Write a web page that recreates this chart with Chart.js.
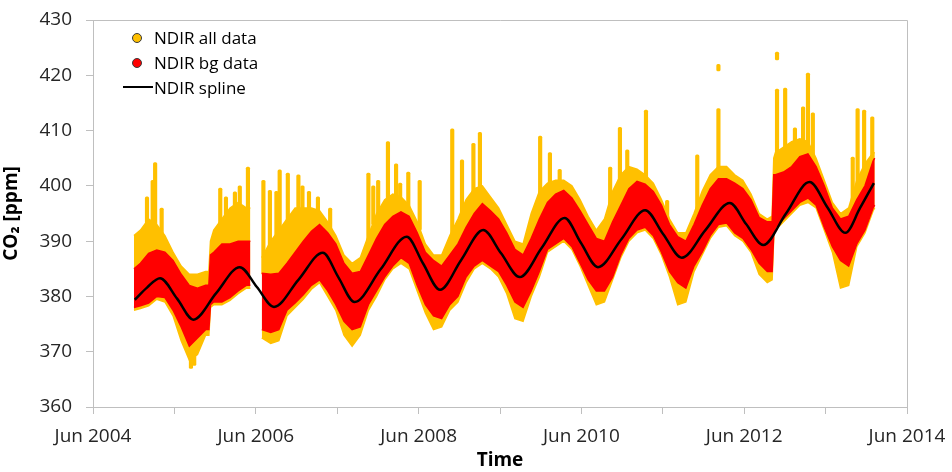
<!DOCTYPE html>
<html lang="en">
<head>
<meta charset="UTF-8">
<title>NDIR CO2</title>
<script src="https://cdn.jsdelivr.net/npm/chart.js"></script>
<style>
  body { margin: 0; background: #fff; }
  #wrap { position: relative; width: 952px; height: 472px; }
  .lg { position: absolute; font: 17px 'Open Sans', sans-serif; color: #000; line-height: 22px; white-space: nowrap; }
  .dot { position: absolute; width: 8px; height: 8px; border-radius: 50%; border: 1px solid #3a3a3a; }
  .ln { position: absolute; height: 2px; background: #000; }
</style>
</head>
<body>
<div id="wrap">
  <canvas id="co2Chart" width="952" height="472"></canvas>
  <div class="dot" style="left:132px;top:33px;background:#ffc000"></div>
  <div class="lg" style="left:154px;top:27px">NDIR all data</div>
  <div class="dot" style="left:132px;top:58px;background:#ff0000"></div>
  <div class="lg" style="left:154px;top:52px">NDIR bg data</div>
  <div class="ln" style="left:123px;top:86px;width:30px"></div>
  <div class="lg" style="left:154px;top:77px">NDIR spline</div>
</div>

<script>
// decimal years, data sampled along the band
const times = [2004.92, 2005.0, 2005.1, 2005.2, 2005.3, 2005.4, 2005.5, 2005.6, 2005.7, 2005.8, 2005.84, 2005.86, 2005.9,
  2006.0, 2006.1, 2006.2, 2006.3, 2006.35, 2006.42, 2006.49, 2006.6, 2006.7, 2006.8, 2006.9,
  2007.0, 2007.1, 2007.2, 2007.3, 2007.4, 2007.5, 2007.6, 2007.7, 2007.8, 2007.9,
  2008.0, 2008.1, 2008.2, 2008.3, 2008.4, 2008.5, 2008.6, 2008.7, 2008.8, 2008.9,
  2009.0, 2009.1, 2009.2, 2009.3, 2009.4, 2009.5, 2009.6, 2009.7, 2009.8, 2009.9,
  2010.0, 2010.1, 2010.2, 2010.3, 2010.4, 2010.5, 2010.6, 2010.7, 2010.8, 2010.9,
  2011.0, 2011.1, 2011.2, 2011.3, 2011.4, 2011.5, 2011.6, 2011.7, 2011.8, 2011.9,
  2012.0, 2012.1, 2012.2, 2012.3, 2012.4, 2012.5, 2012.6, 2012.7, 2012.76, 2012.78, 2012.8, 2012.9,
  2013.0, 2013.1, 2013.2, 2013.3, 2013.4, 2013.5, 2013.6, 2013.7, 2013.8, 2013.9, 2014.0, 2014.02];

// background data (red) lower / upper edge
const bgLo = [378.0, 378.3, 378.8, 380.0, 379.8, 377.5, 374.5, 371.0, 372.5, 374.0, 374.0, 378.5, 379.0,
  379.0, 379.8, 381.0, 382.0, 382.0, null, 374.0, 373.5, 374.0, 377.5, 378.8,
  380.3, 382.0, 383.0, 381.0, 378.5, 375.5, 374.0, 374.5, 378.5, 381.0,
  383.5, 385.5, 387.0, 386.0, 382.0, 378.5, 376.5, 376.0, 378.5, 380.0,
  383.5, 385.5, 386.5, 385.5, 384.5, 382.0, 379.0, 378.0, 381.0, 384.5,
  388.5, 389.5, 390.5, 389.0, 386.0, 383.0, 381.0, 381.0, 383.5, 387.5,
  390.5, 392.0, 392.5, 391.0, 388.0, 384.5, 382.5, 381.5, 385.5, 388.0,
  391.0, 393.0, 393.3, 391.5, 390.5, 388.5, 386.0, 384.5, 384.5, 391.5, 392.5, 394.0,
  395.5, 397.0, 397.8, 396.5, 392.5, 389.0, 386.5, 385.5, 389.5, 392.0, 396.0, 396.5];
const bgHi = [385.0, 386.0, 387.8, 388.4, 388.0, 386.5, 384.0, 382.0, 381.5, 382.0, 382.0, 387.5, 388.0,
  389.5, 389.5, 390.0, 390.0, 390.0, null, 384.2, 384.0, 384.2, 386.0, 388.0,
  390.0, 391.8, 393.0, 391.5, 389.5, 386.0, 384.2, 384.5, 387.5, 390.5,
  393.0, 394.5, 395.3, 394.5, 391.5, 388.0, 386.5, 385.5, 387.5, 389.5,
  392.5, 395.0, 396.8, 395.5, 394.0, 391.5, 388.5, 387.5, 390.5, 394.0,
  397.0, 398.5, 399.2, 397.8, 395.5, 393.0, 390.5, 390.0, 393.5, 396.5,
  399.5, 400.8, 400.3, 399.0, 396.5, 393.0, 390.8, 390.0, 393.0, 396.5,
  399.5, 401.3, 401.3, 400.5, 399.5, 397.5, 394.3, 393.5, 393.5, 402.0, 402.0, 402.5,
  403.5, 405.3, 405.8, 403.5, 400.0, 396.0, 394.0, 394.5, 397.5, 400.0, 404.5, 405.0];

// all data (yellow) lower / upper edge of the dense part
const allLo = [377.5, 377.8, 378.3, 379.5, 379.0, 376.5, 372.0, 368.5, 369.5, 373.0, 373.0, 378.0, 378.5,
  378.5, 379.3, 380.5, 381.5, 381.5, null, 372.5, 371.5, 372.0, 376.5, 378.0,
  379.5, 381.3, 382.5, 380.0, 377.5, 373.0, 371.0, 373.0, 377.5, 380.0,
  383.0, 385.0, 386.0, 385.0, 381.0, 377.0, 374.0, 374.5, 377.5, 379.0,
  382.5, 385.0, 386.0, 385.0, 383.5, 380.5, 376.0, 375.5, 380.0, 383.5,
  388.0, 389.0, 390.0, 388.5, 385.5, 382.0, 378.5, 379.0, 383.0, 387.0,
  390.0, 391.5, 392.0, 390.5, 387.5, 383.5, 378.5, 379.0, 384.5, 387.5,
  390.5, 392.5, 392.8, 391.0, 390.0, 388.0, 384.0, 382.5, 383.0, 391.0, 392.0, 393.5,
  395.0, 396.5, 397.0, 396.0, 392.0, 388.0, 381.5, 382.0, 389.0, 391.5, 395.5, 396.0];
const allHi = [391, 392, 394, 393, 391, 388, 385.5, 384, 384, 384.5, 384.5, 390, 392,
  394, 396, 397, 396, 396, null, 387, 390, 392, 394, 396,
  396, 396, 395.5, 393.5, 391, 387.5, 386, 387, 391, 395,
  397.5, 398.5, 398, 396.5, 393.5, 389.5, 387.5, 387.5, 391, 394,
  397.5, 399.5, 400, 398, 396, 393, 390, 389.5, 395, 399,
  400.5, 401, 401, 400, 397.5, 394.5, 392, 394, 399, 402,
  403.5, 403, 402, 400.5, 397.5, 394, 391.5, 391.5, 395, 399,
  402, 403.5, 403.5, 402, 401, 398.5, 395, 394, 394.5, 405, 406, 407,
  408, 408.5, 408, 405, 401, 397, 395, 396, 401, 404, 406, 406];

// isolated high (and low) excursions of all data
const spikeTimes = [2005.08, 2005.15, 2005.18, 2005.26, 2005.62, 2005.66, 2005.98, 2006.05, 2006.16, 2006.22, 2006.32,
  2006.51, 2006.59, 2006.67, 2006.71, 2006.81, 2006.94, 2006.99, 2007.07, 2007.18, 2007.33,
  2007.80, 2007.86, 2007.92, 2008.04, 2008.14, 2008.19, 2008.29, 2008.43, 2008.83, 2008.95, 2009.09, 2009.17,
  2009.91, 2010.03, 2010.15, 2010.77, 2010.89, 2010.98, 2011.21, 2011.47, 2011.84, 2012.10, 2012.10,
  2012.82, 2012.82, 2012.92, 2013.04, 2013.14, 2013.20, 2013.26, 2013.75, 2013.81, 2013.89, 2013.99];
const spikeLo = [390, 391, 390, 390, 367, 367.5, 392, 393, 395, 396, 395,
  384, 384, 386, 388, 390, 394, 394, 394, 394, 391,
  390, 393, 395, 396, 397, 396, 395, 392, 390, 393, 398, 399,
  398, 400, 400, 393, 400, 402, 401, 393, 393, 402, 420.8,
  404, 422.8, 406, 407, 407, 407, 405, 394, 400, 403, 405];
const spikeHi = [398, 401, 404.2, 396, 372, 371, 399.6, 398, 398.9, 400, 403.4,
  401, 399.2, 399, 402.9, 402.3, 402, 400, 399, 398, 396,
  402.3, 400, 401, 408, 404, 400.5, 402.5, 401, 410.3, 404.7, 407.7, 409.7,
  409, 406, 403, 403.4, 410.6, 406.5, 413.7, 397.4, 405.6, 414, 422,
  417.5, 424.2, 417.7, 410.5, 414.3, 420.4, 413.2, 405.2, 414, 413.7, 412.5];

// spline through the background data
const splineTimes = [2004.93, 2005.08, 2005.24, 2005.45, 2005.65, 2005.93, 2006.22, 2006.43, 2006.64, 2006.94,
  2007.24, 2007.43, 2007.63, 2007.95, 2008.27, 2008.47, 2008.68, 2008.94, 2009.21, 2009.43, 2009.66,
  2009.93, 2010.21, 2010.41, 2010.62, 2010.91, 2011.20, 2011.42, 2011.65, 2011.94, 2012.24, 2012.44,
  2012.65, 2012.93, 2013.22, 2013.44, 2013.66, 2013.84, 2014.01];
const splineValues = [379.4, 381.6, 383.3, 379.6, 375.8, 380.6, 385.3, 381.7, 378.1, 383.0,
  387.9, 383.5, 379.0, 384.9, 390.8, 386.0, 381.2, 386.6, 392.0, 387.8, 383.5,
  388.8, 394.2, 389.7, 385.3, 390.4, 395.6, 391.3, 387.0, 392.0, 396.9, 393.1,
  389.3, 395.0, 400.7, 396.1, 391.5, 396.0, 400.5];

const xTickTimes = [2004.4167, 2005.4167, 2006.4167, 2007.4167, 2008.4167, 2009.4167,
  2010.4167, 2011.4167, 2012.4167, 2013.4167, 2014.4167];
const xTickLabels = ['Jun 2004', '', 'Jun 2006', '', 'Jun 2008', '', 'Jun 2010', '', 'Jun 2012', '', 'Jun 2014'];

const YELLOW = '#ffc000';
const RED = '#ff0000';
const AXIS = '#bfbfbf';

const pts = (xs, ys) => xs.map((x, i) => ({ x: x, y: ys[i] }));

const edge = (data, color, fill, order) => ({
  type: 'line',
  data: data,
  borderColor: color,
  borderWidth: 1.5,
  backgroundColor: color,
  pointRadius: 0,
  tension: 0,
  fill: fill,
  spanGaps: false,
  order: order
});

const frame = {
  id: 'frame',
  afterDraw(chart) {
    const a = chart.chartArea, c = chart.ctx;
    c.save();
    c.strokeStyle = AXIS;
    c.lineWidth = 1;
    c.beginPath();
    c.moveTo(a.left, a.top + 0.5);
    c.lineTo(a.right + 0.5, a.top + 0.5);
    c.lineTo(a.right + 0.5, a.bottom);
    c.stroke();
    c.restore();
  }
};

const tickFont = { family: "'Open Sans', sans-serif", size: 19 };
const titleFont = { family: "'Open Sans', sans-serif", size: 19, weight: 'bold' };

new Chart(document.getElementById('co2Chart'), {
  type: 'line',
  data: {
    datasets: [
      edge(pts(times, allLo), YELLOW, false, 3),
      edge(pts(times, allHi), YELLOW, '-1', 3),
      {
        type: 'bar',
        data: spikeTimes.map((t, i) => ({ x: t, y: [spikeLo[i], spikeHi[i]] })),
        backgroundColor: YELLOW,
        barThickness: 3.5,
        borderRadius: 1.5,
        borderSkipped: false,
        order: 2
      },
      edge(pts(times, bgLo), RED, false, 1),
      edge(pts(times, bgHi), RED, '-1', 1),
      {
        type: 'line',
        data: pts(splineTimes, splineValues),
        borderColor: '#000',
        borderWidth: 2.5,
        pointRadius: 0,
        cubicInterpolationMode: 'monotone',
        fill: false,
        order: 0
      }
    ]
  },
  options: {
    responsive: false,
    animation: false,
    layout: { padding: { top: 20, right: 45, left: 0, bottom: 0 } },
    plugins: { legend: { display: false }, tooltip: { enabled: false } },
    scales: {
      x: {
        type: 'linear',
        min: 2004.4167,
        max: 2014.4167,
        offset: false,
        afterBuildTicks: (s) => { s.ticks = xTickTimes.map(v => ({ value: v })); },
        afterFit: (s) => { s.height = 65; s.paddingLeft = 0; s.paddingRight = 0; },
        ticks: {
          autoSkip: false,
          maxRotation: 0,
          padding: 11,
          color: '#262626',
          font: tickFont,
          callback: (v, i) => xTickLabels[i]
        },
        grid: { offset: false, drawOnChartArea: false, tickLength: 7, color: AXIS },
        border: { color: AXIS },
        title: { display: true, text: 'Time', color: '#000', font: titleFont, padding: { top: 0, bottom: 0 } }
      },
      y: {
        min: 360,
        max: 430,
        afterFit: (s) => { s.width = 93; s.paddingTop = 0; s.paddingBottom = 0; },
        ticks: { stepSize: 10, padding: 14, color: '#262626', font: tickFont },
        grid: { drawOnChartArea: false, tickLength: 7, color: AXIS },
        border: { color: AXIS },
        title: { display: true, text: 'CO₂ [ppm]', color: '#000', font: titleFont, padding: { top: 0, bottom: 0 } }
      }
    }
  },
  plugins: [frame]
});
</script>
</body>
</html>
